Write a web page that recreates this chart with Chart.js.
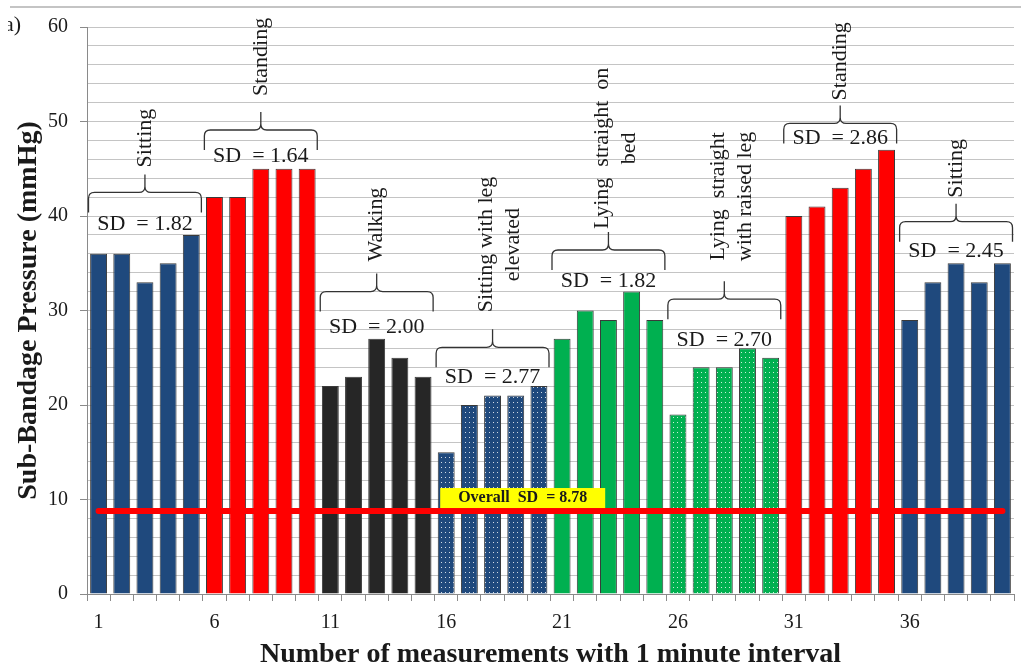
<!DOCTYPE html>
<html>
<head>
<meta charset="utf-8">
<title>Sub-bandage pressure</title>
<script src="https://cdn.jsdelivr.net/npm/chart.js@4.4.1/dist/chart.umd.min.js"></script>
<style>
  body { margin: 0; background: #fff; }
  canvas { display: block; }
</style>
</head>
<body>
<canvas id="pressureChart" width="1021" height="666"></canvas>
<script>
'use strict';

// Sub-bandage pressure (mmHg), five one-minute readings per body position
const sitting1 = [36, 36, 33, 35, 38];
const standing1 = [42, 42, 45, 45, 45];
const walking = [22, 23, 27, 25, 23];
const sittingLegUp = [15, 20, 21, 21, 22];
const lyingFlat = [27, 30, 29, 32, 29];
const lyingLegUp = [19, 24, 24, 26, 25];
const standing2 = [40, 41, 43, 45, 47];
const sitting2 = [29, 33, 35, 33, 35];

const positions = ['Sitting', 'Standing', 'Walking', ['Sitting with leg', 'elevated'],
    ['Lying  straight  on', 'bed'], ['Lying  straight', 'with raised leg'], 'Standing', 'Sitting'];
const positionSD = [1.82, 1.64, 2.00, 2.77, 1.82, 2.70, 2.86, 2.45];
const overallSD = 8.78;

const groups = [sitting1, standing1, walking, sittingLegUp, lyingFlat, lyingLegUp, standing2, sitting2];
const pressure = groups.flat();
const measurement = pressure.map((_, i) => String(i + 1));

// where each brace and its SD text sit (mmHg), and label gap above the brace tip (px)
const braceAt = [42.5, 49.1, 32.0, 26.1, 36.4, 31.2, 49.8, 39.4];
const sdTextAt = [38.5, 45.7, 27.6, 22.3, 32.5, 26.2, 47.6, 35.7];
const labelGap = [7, 16, 12, 17, 3, 20, 5, 6];

const SERIF = '"Liberation Serif", "Times New Roman", serif';
const NAVY = '#1f497d';
const GREEN = '#00b050';

let dotted = (color) => {
    const tile = document.createElement('canvas');
    tile.width = 4;
    tile.height = 5;
    const g = tile.getContext('2d');
    g.fillStyle = color;
    g.fillRect(0, 0, 4, 5);
    g.fillStyle = 'rgba(255,255,255,0.8)';
    g.fillRect(1, 2, 1, 1);
    return g.createPattern(tile, 'repeat');
};

const groupFill = ['#1f497d', '#ff0000', '#262626', dotted(NAVY), GREEN, dotted(GREEN), '#ff0000', '#1f497d'];
const barColors = groups.flatMap((vals, g) => vals.map(() => groupFill[g]));

let drawBrace = (ctx, left, right, top) => {
    const mid = (left + right) / 2;
    const r = 6, drop = 20, rise = 18;
    ctx.beginPath();
    ctx.moveTo(left, top + drop);
    ctx.lineTo(left, top + r);
    ctx.quadraticCurveTo(left, top, left + r, top);
    ctx.lineTo(mid - r, top);
    ctx.quadraticCurveTo(mid, top, mid, top - r);
    ctx.lineTo(mid, top - rise);
    ctx.moveTo(mid, top - rise);
    ctx.lineTo(mid, top - r);
    ctx.quadraticCurveTo(mid, top, mid + r, top);
    ctx.lineTo(right - r, top);
    ctx.quadraticCurveTo(right, top, right, top + r);
    ctx.lineTo(right, top + drop);
    ctx.stroke();
    return top - rise;
};

// braces, position labels, SD values, overall SD tag and axis titles
const annotate = {
    id: 'annotate',
    afterDraw(chart) {
        const {ctx, chartArea: area, scales: {x, y}} = chart;
        const step = x.width / measurement.length;
        ctx.save();

        // page rule and cut-off panel letter
        ctx.strokeStyle = '#c4c4c4';
        ctx.lineWidth = 2;
        ctx.beginPath();
        ctx.moveTo(10, 7);
        ctx.lineTo(1021, 7);
        ctx.stroke();
        ctx.save();
        ctx.beginPath();
        ctx.rect(8, 10, 30, 30);
        ctx.clip();
        ctx.fillStyle = '#1a1a1a';
        ctx.font = `22px ${SERIF}`;
        ctx.textAlign = 'right';
        ctx.fillText('(a)', 21, 31);
        ctx.restore();

        let start = 0;
        groups.forEach((vals, g) => {
            const left = x.getPixelForValue(start) - step / 2 + 1.5;
            const right = x.getPixelForValue(start + vals.length - 1) + step / 2 - 1.5;
            const mid = (left + right) / 2;
            start += vals.length;

            ctx.strokeStyle = '#333';
            ctx.lineWidth = 1.3;
            const tip = drawBrace(ctx, left, right, y.getPixelForValue(braceAt[g]));

            // rotated position label above the brace tip
            const lines = [].concat(positions[g]);
            ctx.font = `22px ${SERIF}`;
            ctx.fillStyle = '#1a1a1a';
            const widest = Math.max(...lines.map(t => ctx.measureText(t).width));
            const spread = 27;
            const shift = lines.length > 1 ? 7 : 0;
            lines.forEach((text, i) => {
                ctx.save();
                ctx.translate(mid + shift + (i - (lines.length - 1) / 2) * spread, tip - labelGap[g]);
                ctx.rotate(-Math.PI / 2);
                ctx.textAlign = 'center';
                ctx.textBaseline = 'middle';
                ctx.fillText(text, widest / 2, 0);
                ctx.restore();
            });

            ctx.textAlign = 'center';
            ctx.textBaseline = 'alphabetic';
            ctx.fillText('SD  = ' + positionSD[g].toFixed(2), mid, y.getPixelForValue(sdTextAt[g]));
        });

        // overall SD tag resting on the red line
        const lineY = y.getPixelForValue(overallSD);
        const tagX = area.left + 0.47 * area.width;
        ctx.fillStyle = '#ffff00';
        ctx.fillRect(tagX - 82.5, lineY - 23, 165, 20);
        ctx.fillStyle = '#1a1a1a';
        ctx.font = `bold 16px ${SERIF}`;
        ctx.textBaseline = 'middle';
        ctx.fillText('Overall  SD  = ' + overallSD.toFixed(2), tagX, lineY - 13);

        // axis titles
        ctx.font = `bold 28px ${SERIF}`;
        ctx.textBaseline = 'alphabetic';
        ctx.fillText('Number of measurements with 1 minute interval', (area.left + area.right) / 2, 662);
        ctx.translate(36, (area.top + area.bottom) / 2);
        ctx.rotate(-Math.PI / 2);
        ctx.fillText('Sub-Bandage Pressure (mmHg)', 0, 0);
        ctx.restore();
    }
};

window.onload = () => {
    const chartDOM = document.getElementById('pressureChart');
    new Chart(chartDOM, {
        type: 'bar',
        data: {
            labels: measurement,
            datasets: [{
                type: 'line',
                label: 'Overall SD',
                data: pressure.map(() => overallSD),
                borderColor: '#ff0000',
                borderWidth: 6,
                borderCapStyle: 'round',
                pointRadius: 0,
                order: 0
            }, {
                label: 'Sub-bandage pressure',
                data: pressure,
                backgroundColor: barColors,
                borderColor: '#3a3a3a',
                borderWidth: 1,
                barPercentage: 0.73,
                categoryPercentage: 1,
                order: 1
            }]
        },
        options: {
            responsive: false,
            animation: false,
            layout: {padding: {top: 27, right: 7, bottom: 0, left: 0}},
            plugins: {legend: {display: false}, tooltip: {enabled: false}},
            scales: {
                x: {
                    afterFit: (scale) => { scale.height = 72; },
                    offset: true,
                    grid: {offset: true, drawOnChartArea: false, tickLength: 7, tickColor: '#8a8a8a'},
                    border: {color: '#8a8a8a'},
                    ticks: {
                        autoSkip: false,
                        maxRotation: 0,
                        padding: 10,
                        color: '#1a1a1a',
                        font: {family: SERIF, size: 20},
                        callback: (val, i) => (i % 5 === 0 ? measurement[i] : '')
                    }
                },
                y: {
                    afterFit: (scale) => { scale.width = 87; },
                    min: 0,
                    max: 60,
                    grid: {
                        color: '#c4c4c4',
                        tickLength: 7,
                        tickColor: (c) => (c.tick && c.tick.value % 10 === 0 ? '#8a8a8a' : 'rgba(0,0,0,0)')
                    },
                    border: {color: '#8a8a8a'},
                    ticks: {
                        stepSize: 2,
                        autoSkip: false,
                        maxTicksLimit: 100,
                        padding: 12,
                        color: '#1a1a1a',
                        font: {family: SERIF, size: 20},
                        callback: (val) => (val % 10 === 0 ? val : '')
                    }
                }
            }
        },
        plugins: [annotate]
    });
};
</script>
</body>
</html>
